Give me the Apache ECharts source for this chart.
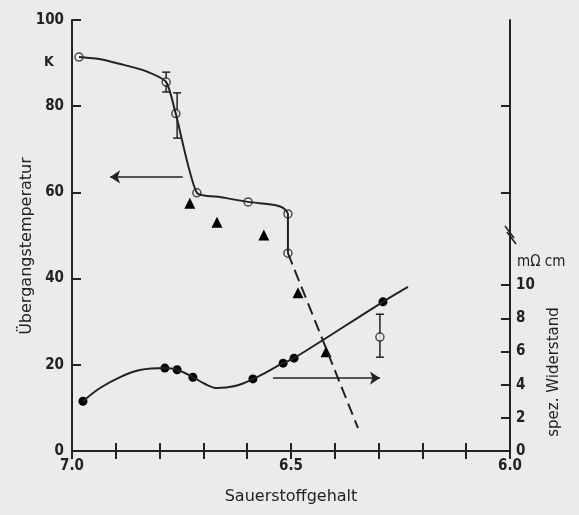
<!DOCTYPE html>
<html>
<head>
<meta charset="utf-8">
<script src="https://cdn.jsdelivr.net/npm/echarts@6/dist/echarts.min.js"></script>
<style>
html,body{margin:0;padding:0;background:#ebebeb;}
#main{width:579px;height:515px;}
</style>
</head>
<body>
<div id="main"></div>
<script>
// Sprungtemperatur (K) gegen Sauerstoffgehalt
var tcCurveOx = [6.984, 6.935, 6.890, 6.833, 6.785, 6.763, 6.715, 6.660, 6.598, 6.537, 6.518, 6.507, 6.507];
var tcCurveT  = [91.4, 90.9, 89.8, 88.2, 85.6, 78.2, 59.9, 58.9, 57.8, 57.1, 56.4, 55.0, 45.9];
var tcPtOx = [6.984, 6.785, 6.763, 6.715, 6.598, 6.507, 6.507];
var tcPtT  = [91.4, 85.6, 78.3, 59.9, 57.8, 55.0, 45.9];
var triOx = [6.731, 6.669, 6.562, 6.484, 6.420];
var triT  = [57.5, 53.1, 50.1, 36.7, 23.0];
var dashOx = [6.507, 6.347];
var dashT  = [45.9, 5.3];
var tcErrOx = [6.785, 6.760];
var tcErrLo = [83.3, 72.6];
var tcErrHi = [87.9, 83.1];

// spez. Widerstand (mOhm cm)
var rhoCurveOx = [6.975, 6.936, 6.890, 6.845, 6.788, 6.760, 6.724, 6.696, 6.669, 6.628, 6.587, 6.518, 6.493, 6.290, 6.233];
var rhoCurveV  = [3.0, 3.8, 4.46, 4.88, 5.0, 4.9, 4.46, 4.04, 3.8, 3.92, 4.34, 5.3, 5.6, 9.0, 9.9];
var rhoPtOx = [6.975, 6.788, 6.760, 6.724, 6.587, 6.518, 6.493, 6.290];
var rhoPtV  = [3.0, 5.0, 4.9, 4.45, 4.35, 5.3, 5.6, 9.0];
var rhoOpenOx = [6.297];
var rhoOpenV  = [6.87];
var rhoErrLo = [5.66];
var rhoErrHi = [8.25];

// Pfeile
var arrowTc  = [[6.747, 63.6], [6.913, 63.6]];
var arrowRho = [[6.541, 4.4], [6.297, 4.4]];

var rightTicks = [0, 2, 4, 6, 8, 10];
var xLabels = [7.0, 6.5, 6.0];

var ink = '#222';
var fontNum = 'DejaVu Sans Condensed, DejaVu Sans, sans-serif';

function pairs(a, b) {
	var out = [];
	for (var i = 0; i < a.length; i++) out.push([a[i], b[i]]);
	return out;
}
function triples(a, b, c) {
	var out = [];
	for (var i = 0; i < a.length; i++) out.push([a[i], b[i], c[i]]);
	return out;
}

function errRender(params, api) {
	var x = api.value(0);
	var p1 = api.coord([x, api.value(1)]);
	var p2 = api.coord([x, api.value(2)]);
	var st = {stroke: ink, lineWidth: 1.5};
	return {
		type: 'group',
		children: [
			{type: 'line', shape: {x1: p1[0], y1: p1[1], x2: p2[0], y2: p2[1]}, style: st},
			{type: 'line', shape: {x1: p1[0] - 4, y1: p1[1], x2: p1[0] + 4, y2: p1[1]}, style: st},
			{type: 'line', shape: {x1: p2[0] - 4, y1: p2[1], x2: p2[0] + 4, y2: p2[1]}, style: st}
		]
	};
}

function arrowLine(pts) {
	return {
		silent: true, symbol: ['none', 'arrow'], symbolSize: 10,
		label: {show: false},
		itemStyle: {color: ink},
		lineStyle: {color: ink, width: 1.5, type: 'solid'},
		emphasis: {disabled: true},
		data: [[{coord: pts[0]}, {coord: pts[1]}]]
	};
}

var myChart = echarts.init(document.getElementById('main'));
var axisLine = {show: true, lineStyle: {color: ink, width: 2}};

myChart.setOption({
	backgroundColor: '#ebebeb',
	animation: false,
	grid: {left: 72, right: 69, top: 20, bottom: 64, containLabel: false},
	xAxis: [{
		type: 'value', inverse: true, min: 6.0, max: 7.0, interval: 0.1,
		position: 'bottom',
		axisLine: axisLine,
		axisTick: {show: true, inside: true, length: 8, lineStyle: {color: ink, width: 2}},
		splitLine: {show: false},
		axisLabel: {
			margin: 8, color: ink, fontSize: 15, fontWeight: 'bold', fontFamily: fontNum,
			formatter: function(v) {
				for (var i = 0; i < xLabels.length; i++) {
					if (Math.abs(v - xLabels[i]) < 1e-6) return xLabels[i].toFixed(1);
				}
				return '';
			}
		},
		name: 'Sauerstoffgehalt', nameLocation: 'middle', nameGap: 38,
		nameTextStyle: {color: ink, fontSize: 16, fontFamily: 'DejaVu Sans, sans-serif'}
	}, {
		type: 'value', inverse: true, min: 6.0, max: 7.0, interval: 0.1,
		position: 'top',
		axisLine: axisLine,
		axisTick: {show: true, inside: true, length: 8, lineStyle: {color: ink, width: 2}},
		splitLine: {show: false},
		axisLabel: {show: false}
	}],
	yAxis: [{
		type: 'value', min: 0, max: 100, interval: 20,
		position: 'left',
		axisLine: axisLine,
		axisTick: {show: true, inside: true, length: 9, lineStyle: {color: ink, width: 2}},
		splitLine: {show: false},
		axisLabel: {margin: 8, color: ink, fontSize: 15, fontWeight: 'bold', fontFamily: fontNum}
	}, {
		type: 'value', min: 0, max: 26,
		position: 'right',
		axisLine: axisLine,
		axisTick: {show: true, inside: true, length: 9, customValues: rightTicks, lineStyle: {color: ink, width: 2}},
		splitLine: {show: false},
		axisLabel: {margin: 6, color: ink, fontSize: 15, fontWeight: 'bold', fontFamily: fontNum, customValues: rightTicks}
	}, {
		type: 'value', min: 0, max: 100,
		position: 'right',
		axisLine: {show: false},
		axisTick: {show: true, inside: true, length: 9, customValues: [60, 80], lineStyle: {color: ink, width: 2}},
		splitLine: {show: false},
		axisLabel: {show: false}
	}],
	graphic: [
		{type: 'text', left: 44, top: 55, style: {text: 'K', fill: ink, font: 'bold 14px ' + fontNum}},
		{type: 'text', x: 27, y: 246, rotation: Math.PI / 2,
			style: {text: 'Übergangstemperatur', fill: ink, font: '16px DejaVu Sans, sans-serif', align: 'center', verticalAlign: 'middle'}},
		{type: 'text', left: 517, top: 255, style: {text: 'mΩ cm', fill: ink, font: '15px DejaVu Sans Condensed, DejaVu Sans, sans-serif'}},
		{type: 'text', x: 554, y: 372, rotation: Math.PI / 2,
			style: {text: 'spez. Widerstand', fill: ink, font: '15px DejaVu Sans, sans-serif', align: 'center', verticalAlign: 'middle'}},
		{type: 'line', shape: {x1: 505, y1: 226, x2: 514, y2: 238}, style: {stroke: ink, lineWidth: 1.5}},
		{type: 'line', shape: {x1: 507, y1: 232, x2: 516, y2: 244}, style: {stroke: ink, lineWidth: 1.5}}
	],
	series: [{
		type: 'line', xAxisIndex: 0, yAxisIndex: 0,
		data: pairs(tcCurveOx, tcCurveT),
		smooth: 0.2, showSymbol: false,
		lineStyle: {color: ink, width: 2},
		markLine: arrowLine(arrowTc)
	}, {
		type: 'line', xAxisIndex: 0, yAxisIndex: 0,
		data: pairs(dashOx, dashT),
		showSymbol: false,
		lineStyle: {color: ink, width: 2, type: [12, 6]}
	}, {
		type: 'custom', xAxisIndex: 0, yAxisIndex: 0,
		data: triples(tcErrOx, tcErrLo, tcErrHi),
		encode: {x: 0, y: [1, 2]},
		renderItem: errRender
	}, {
		type: 'scatter', xAxisIndex: 0, yAxisIndex: 0,
		data: pairs(tcPtOx, tcPtT),
		symbol: 'circle', symbolSize: 8,
		itemStyle: {color: '#f4f4f4', borderColor: ink, borderWidth: 1.5}
	}, {
		type: 'scatter', xAxisIndex: 0, yAxisIndex: 0,
		data: pairs(triOx, triT),
		symbol: 'triangle', symbolSize: 11,
		itemStyle: {color: '#000', opacity: 1}
	}, {
		type: 'line', xAxisIndex: 0, yAxisIndex: 1,
		data: pairs(rhoCurveOx, rhoCurveV),
		smooth: 0.35, showSymbol: false,
		lineStyle: {color: ink, width: 2},
		markLine: arrowLine(arrowRho)
	}, {
		type: 'scatter', xAxisIndex: 0, yAxisIndex: 1,
		data: pairs(rhoPtOx, rhoPtV),
		symbol: 'circle', symbolSize: 9,
		itemStyle: {color: '#000', opacity: 1}
	}, {
		type: 'custom', xAxisIndex: 0, yAxisIndex: 1,
		data: triples(rhoOpenOx, rhoErrLo, rhoErrHi),
		encode: {x: 0, y: [1, 2]},
		renderItem: errRender
	}, {
		type: 'scatter', xAxisIndex: 0, yAxisIndex: 1,
		data: pairs(rhoOpenOx, rhoOpenV),
		symbol: 'circle', symbolSize: 8,
		itemStyle: {color: '#f4f4f4', borderColor: ink, borderWidth: 1.5}
	}]
});
</script>
</body>
</html>
